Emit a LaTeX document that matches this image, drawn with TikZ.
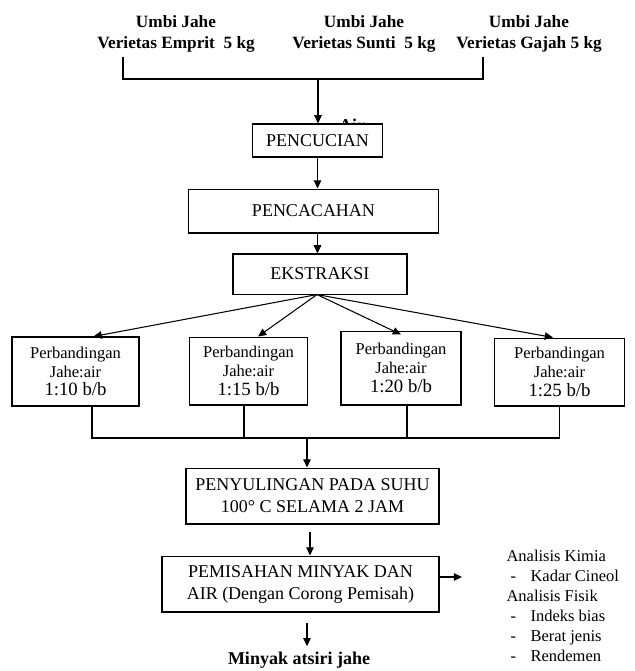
\documentclass[tikz,border=0pt]{standalone}
\usepackage{fontspec}
\setmainfont{Liberation Serif}
\usepackage{tikz}
\usetikzlibrary{calc,positioning,arrows.meta}

\begin{document}
\begin{tikzpicture}[x=0.6667pt,y=-0.6667pt,line width=0.7pt,
    proc/.style={draw,fill=white,align=center,inner sep=0pt,font=\fontsize{12}{14.7}\selectfont},
    ratio/.style={proc,font=\fontsize{11}{12.5}\selectfont},
    bahan/.style={align=center,font=\bfseries\fontsize{11.5}{14}\selectfont},
    arr/.style={-{Triangle[length=5.5pt,width=5pt]}}]
            % Frame
            \useasboundingbox (0,0) rectangle (635,671);
            % Ginger inputs
            \node[bahan] (emprit) at (176,33.5) {Umbi Jahe\\Verietas Emprit\ \ 5 kg};
            \node[bahan] (sunti) at (364,33.5) {Umbi Jahe\\Verietas Sunti\ \ 5 kg};
            \node[bahan] (gajah) at (529,33.5) {Umbi Jahe\\Verietas Gajah 5 kg};
            % Bracket corners
            \coordinate (bl) at (123,57);
            \coordinate (br) at (483,57);
            \coordinate (bj) at (318,79);
            % Air (partly hidden by the box)
            \node[font=\bfseries\fontsize{12}{14}\selectfont,anchor=base] (air) at (352,131) {Air};
            % Process boxes
            \node[proc,minimum width=87.3pt,minimum height=22pt] (cuci) at (317.5,140.5) {PENCUCIAN};
            \node[proc,minimum width=167.3pt,minimum height=29.3pt] (cacah) at (313.5,211) {PENCACAHAN};
            \node[proc,minimum width=116pt,minimum height=26.7pt] (ekstr) at (320,274) {EKSTRAKSI};
            % Ratio boxes
            \node[ratio,minimum width=84.7pt,minimum height=46pt] (p1) at (75.5,371.5)
                {Perbandingan\\Jahe:air\\{\fontsize{12.5}{12.5}\selectfont 1:10 b/b}};
            \node[ratio,minimum width=79.3pt,minimum height=45.3pt] (p2) at (248.5,371)
                {Perbandingan\\Jahe:air\\{\fontsize{12.5}{12.5}\selectfont 1:15 b/b}};
            \node[ratio,minimum width=80pt,minimum height=49.3pt] (p3) at (401,368)
                {Perbandingan\\Jahe:air\\{\fontsize{12.5}{12.5}\selectfont 1:20 b/b}};
            \node[ratio,minimum width=87.3pt,minimum height=45.3pt] (p4) at (559.5,372)
                {Perbandingan\\Jahe:air\\{\fontsize{12.5}{12.5}\selectfont 1:25 b/b}};
            % Distillation and separation
            \node[proc,minimum width=168.7pt,minimum height=37.3pt] (pny) at (312.5,496)
                {PENYULINGAN PADA SUHU\\100° C SELAMA 2 JAM};
            \node[proc,minimum width=184.7pt,minimum height=37.3pt] (pms) at (300.5,584)
                {PEMISAHAN MINYAK DAN\\AIR (Dengan Corong Pemisah)};
            % Product
            \node[font=\bfseries\fontsize{12}{14}\selectfont] (minyak) at (299,660) {Minyak atsiri jahe};
            % Analyses
            \node[anchor=north west,align=left,inner sep=0pt,font=\fontsize{11}{13.3}\selectfont] (analisis) at (506,550)
                {Analisis Kimia\\
                 \makebox[16pt][l]{\ -}Kadar Cineol\\
                 Analisis Fisik\\
                 \makebox[16pt][l]{\ -}Indeks bias\\
                 \makebox[16pt][l]{\ -}Berat jenis\\
                 \makebox[16pt][l]{\ -}Rendemen};
            % Top bracket
            \draw (bl) -- (bl |- bj) -- (br |- bj) -- (br);
            \draw[arr] (bj) -- (bj |- cuci.north);
            % Main line
            \draw[arr] (cuci.south) -- (cuci.south |- cacah.north);
            \draw[arr] (cuci.south |- cacah.south) -- (cuci.south |- ekstr.north);
            % Branches
            \coordinate (es) at ($(ekstr.south)+(-3,0)$);
            \draw[arr] (es) -- ($(p1.north)+(18,0)$);
            \draw[arr] (es) -- ($(p2.north)+(9.5,0)$);
            \draw[arr] (es) -- ($(p3.north)+(0,4)$);
            \draw[arr] (es) -- ($(p4.north)+(-6.5,0)$);
            % Join
            \coordinate (jn) at (307,438);
            \coordinate (s1) at ($(p1.south)+(16.5,0)$);
            \coordinate (s2) at ($(p2.south)+(-4.5,0)$);
            \coordinate (s3) at ($(p3.south)+(6,0)$);
            \draw (s1) -- (s1 |- jn) -- (p4.south |- jn) -- (p4.south);
            \draw (s2) -- (s2 |- jn);
            \draw (s3) -- (s3 |- jn);
            \draw[arr] (jn) -- (jn |- pny.north);
            % Lower line
            \coordinate (ps) at ($(pny.south)+(-2.5,0)$);
            \draw[arr,shorten <=5pt] (ps) -- (ps |- pms.north);
            \coordinate (ms) at ($(pms.south)+(6.5,0)$);
            \draw[arr,shorten <=7pt] (ms) -- (ms |- minyak.north);
            \coordinate (ae) at (462,577);
            \draw[arr] (pms.east |- ae) -- (ae);
        \end{tikzpicture}
\end{document}
